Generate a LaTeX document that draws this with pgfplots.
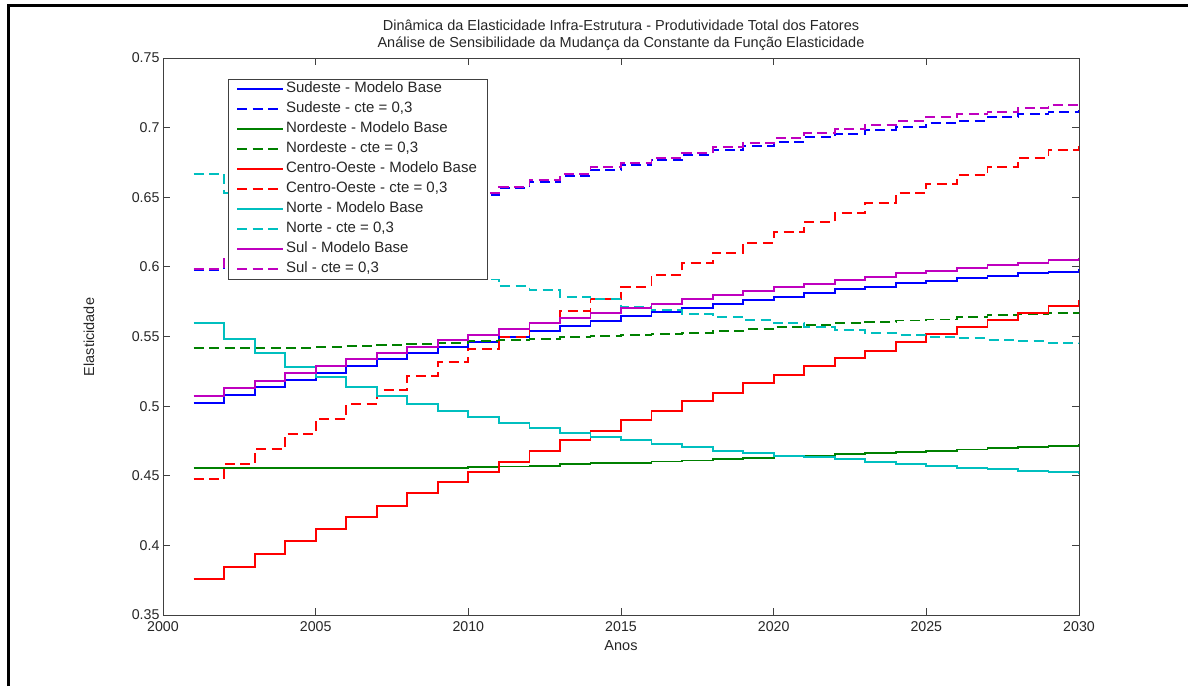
\documentclass[border=0pt]{standalone}
\usepackage{fontspec}
\setmainfont{Liberation Sans}
\usepackage{pgfplots}
\usepackage{pgfplotstable}
\pgfplotsset{compat=1.18}

\definecolor{mblue}{rgb}{0,0,1}
\definecolor{mgreen}{rgb}{0,0.5,0}
\definecolor{mred}{rgb}{1,0,0}
\definecolor{mcyan}{rgb}{0,0.75,0.75}
\definecolor{mmagenta}{rgb}{0.75,0,0.75}
\definecolor{axgray}{gray}{0.25}

% Yearly elasticity by region: base model (B) and constant = 0.3 (C)
\pgfplotstableread{
year seB    seC    neB    neC    coB    coC    noB    noC    suB    suC
2001 0.5025 0.5980 0.4553 0.5416 0.3759 0.4475 0.5599 0.6667 0.5073 0.5985
2002 0.5082 0.6060 0.4553 0.5416 0.3847 0.4584 0.5482 0.6528 0.5128 0.6070
2003 0.5140 0.6130 0.4553 0.5417 0.3938 0.4694 0.5379 0.6440 0.5183 0.6140
2004 0.5188 0.6190 0.4554 0.5420 0.4034 0.4802 0.5283 0.6355 0.5236 0.6205
2005 0.5240 0.6250 0.4554 0.5425 0.4120 0.4908 0.5211 0.6275 0.5288 0.6265
2006 0.5288 0.6310 0.4555 0.5430 0.4202 0.5013 0.5135 0.6200 0.5336 0.6325
2007 0.5336 0.6360 0.4556 0.5437 0.4285 0.5114 0.5075 0.6130 0.5384 0.6380
2008 0.5379 0.6410 0.4557 0.5444 0.4378 0.5216 0.5013 0.6060 0.5427 0.6430
2009 0.5423 0.6460 0.4558 0.5456 0.4455 0.5315 0.4967 0.5985 0.5475 0.6480
2010 0.5460 0.6516 0.4561 0.5468 0.4529 0.5410 0.4920 0.5910 0.5513 0.6528
2011 0.5499 0.6564 0.4566 0.5475 0.4601 0.5499 0.4877 0.5863 0.5552 0.6576
2012 0.5542 0.6612 0.4572 0.5482 0.4680 0.5595 0.4845 0.5834 0.5595 0.6624
2013 0.5578 0.6653 0.4584 0.5494 0.4757 0.5685 0.4805 0.5786 0.5635 0.6665
2014 0.5614 0.6696 0.4589 0.5502 0.4824 0.5769 0.4781 0.5767 0.5667 0.6715
2015 0.5647 0.6732 0.4594 0.5511 0.4900 0.5858 0.4757 0.5714 0.5703 0.6744
2016 0.5678 0.6768 0.4602 0.5518 0.4967 0.5942 0.4726 0.5690 0.5731 0.6784
2017 0.5703 0.6803 0.4610 0.5528 0.5039 0.6026 0.4704 0.5660 0.5767 0.6820
2018 0.5733 0.6839 0.4618 0.5540 0.5097 0.6102 0.4680 0.5642 0.5798 0.6859
2019 0.5762 0.6868 0.4630 0.5552 0.5164 0.6174 0.4661 0.5620 0.5829 0.6887
2020 0.5786 0.6899 0.4638 0.5570 0.5224 0.6248 0.4642 0.5595 0.5855 0.6923
2021 0.5810 0.6930 0.4642 0.5583 0.5288 0.6322 0.4632 0.5570 0.5877 0.6959
2022 0.5839 0.6954 0.4656 0.5595 0.5343 0.6389 0.4618 0.5547 0.5906 0.6988
2023 0.5858 0.6983 0.4666 0.5606 0.5398 0.6457 0.4601 0.5523 0.5930 0.7019
2024 0.5882 0.7007 0.4673 0.5615 0.5458 0.6528 0.4584 0.5511 0.5954 0.7048
2025 0.5901 0.7031 0.4680 0.5622 0.5516 0.6595 0.4572 0.5499 0.5973 0.7074
2026 0.5918 0.7050 0.4688 0.5640 0.5566 0.6658 0.4558 0.5487 0.5990 0.7096
2027 0.5935 0.7074 0.4697 0.5652 0.5619 0.6719 0.4547 0.5475 0.6014 0.7115
2028 0.5954 0.7098 0.4704 0.5660 0.5671 0.6784 0.4537 0.5465 0.6030 0.7139
2029 0.5965 0.7110 0.4716 0.5667 0.5719 0.6839 0.4525 0.5456 0.6049 0.7163
2030 0.5983 0.7127 0.4726 0.5678 0.5762 0.6892 0.4513 0.5446 0.6062 0.7186
}\elast

\pgfplotsset{
  base/.style={draw=#1, color=#1, line width=1.8pt, const plot},
  alt/.style={draw=#1, color=#1, line width=1.8pt, const plot, dash pattern=on 10pt off 5.5pt},
}

\begin{document}
\begin{tikzpicture}[x=1pt,y=1pt]
\useasboundingbox (0,0) rectangle (1188,686);
% frame of the figure window
\draw[line width=3pt, line join=miter] (8.5,0) -- (8.5,680.5) -- (1188,680.5);

\begin{axis}[
  at={(163pt,71pt)}, anchor=south west,
  scale only axis, width=916pt, height=557pt,
  xmin=2000, xmax=2030, ymin=0.35, ymax=0.75,
  xtick={2000,2005,2010,2015,2020,2025,2030},
  xticklabels={2000,2005,2010,2015,2020,2025,2030},
  ytick={0.35,0.4,0.45,0.5,0.55,0.6,0.65,0.7,0.75},
  yticklabels={0.35,0.4,0.45,0.5,0.55,0.6,0.65,0.7,0.75},
  tick align=inside, major tick length=7pt,
  axis line style={axgray, line width=0.9pt},
  every tick/.style={axgray, line width=0.9pt},
  ticklabel style={font=\fontsize{14.2}{16}\selectfont, text=black!85},
  xticklabel style={yshift=-3pt},
  legend cell align=left,
  legend image code/.code={\draw[#1] (0pt,0pt) -- (46pt,0pt);},
  legend style={
    at={(0.071,0.9623)}, anchor=north west,
    draw=axgray, fill=white,
    font=\fontsize{15}{17}\selectfont, text=black!85,
    inner xsep=8pt, inner ysep=1pt, row sep=2pt,
    nodes={inner sep=2pt, text height=10.5pt, text depth=3.5pt},
  },
]
\addplot[base=mblue] table[x=year,y=seB] {\elast};
\addlegendentry{Sudeste - Modelo Base}
\addplot[alt=mblue] table[x=year,y=seC] {\elast};
\addlegendentry{Sudeste - cte = 0,3}
\addplot[base=mgreen] table[x=year,y=neB] {\elast};
\addlegendentry{Nordeste - Modelo Base}
\addplot[alt=mgreen] table[x=year,y=neC] {\elast};
\addlegendentry{Nordeste - cte = 0,3}
\addplot[base=mred] table[x=year,y=coB] {\elast};
\addlegendentry{Centro-Oeste - Modelo Base}
\addplot[alt=mred] table[x=year,y=coC] {\elast};
\addlegendentry{Centro-Oeste - cte = 0,3}
\addplot[base=mcyan] table[x=year,y=noB] {\elast};
\addlegendentry{Norte - Modelo Base}
\addplot[alt=mcyan] table[x=year,y=noC] {\elast};
\addlegendentry{Norte - cte = 0,3}
\addplot[base=mmagenta] table[x=year,y=suB] {\elast};
\addlegendentry{Sul - Modelo Base}
\addplot[alt=mmagenta] table[x=year,y=suC] {\elast};
\addlegendentry{Sul - cte = 0,3}
\end{axis}

% titles and axis labels
\node[anchor=base, font=\fontsize{14.5}{17}\selectfont, text=black!85] at (621,655.3)
  {Dinâmica da Elasticidade Infra-Estrutura - Produtividade Total dos Fatores};
\node[anchor=base, font=\fontsize{14.5}{17}\selectfont, text=black!85] at (621,638.7)
  {Análise de Sensibilidade da Mudança da Constante da Função Elasticidade};
\node[anchor=base, font=\fontsize{14.5}{17}\selectfont, text=black!85] at (621,36) {Anos};
\node[anchor=base, rotate=90, font=\fontsize{14.5}{17}\selectfont, text=black!85] at (94,349) {Elasticidade};
\end{tikzpicture}
\end{document}
